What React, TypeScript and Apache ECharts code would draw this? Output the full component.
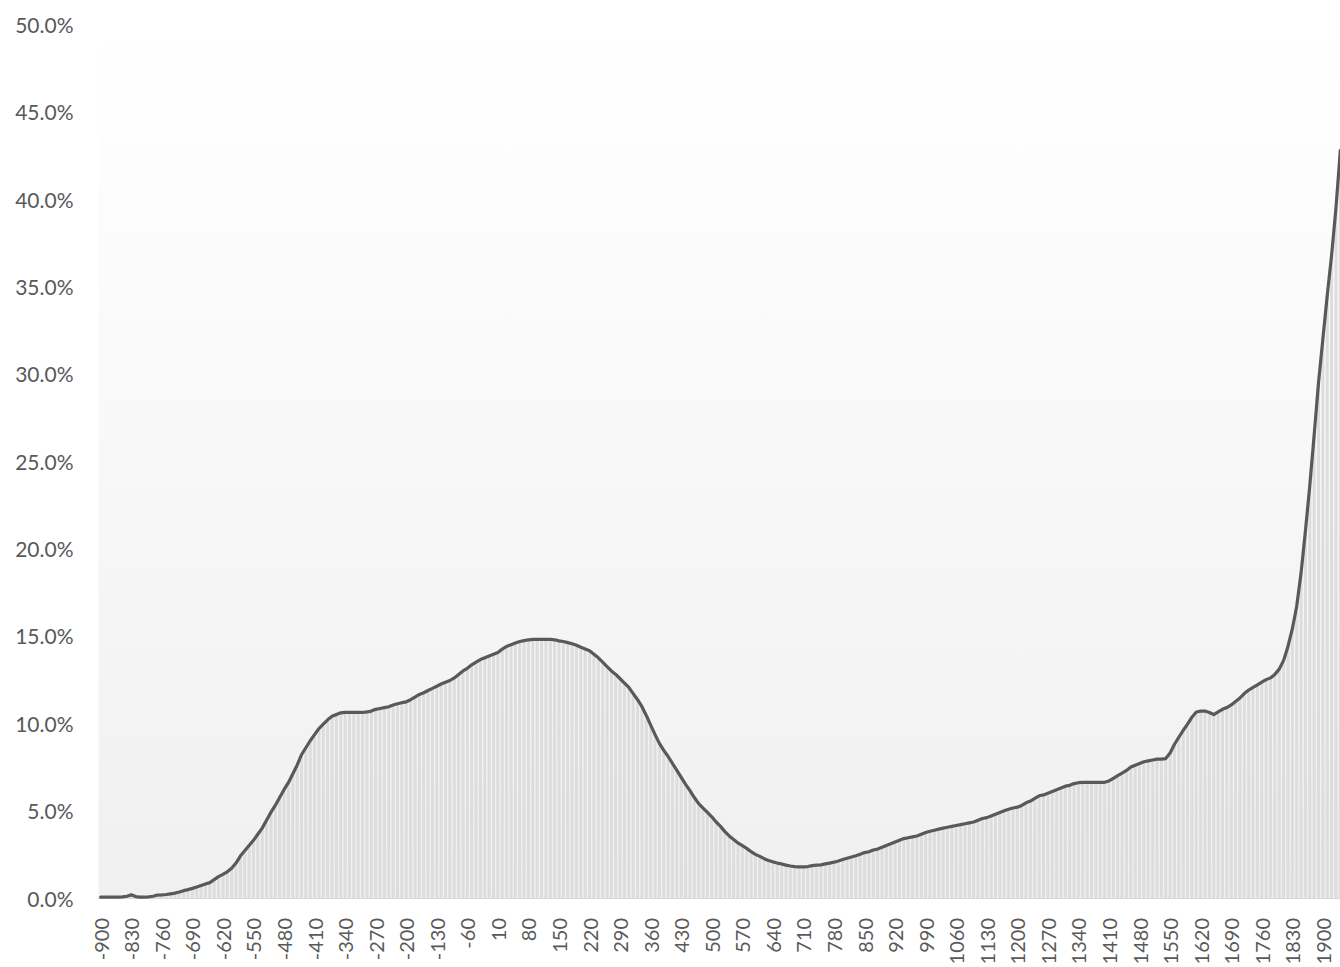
import React, { useEffect, useRef } from "react";
import * as echarts from "echarts";

// Years from -900 to 1940, step 10
const years: string[] = Array.from({ length: 285 }, (_, i) => String(-900 + i * 10));

// Share (%), one value per decade
const shareValues: number[] = [
  // -900..-810
  0.05, 0.05, 0.05, 0.05, 0.05, 0.06, 0.1, 0.18, 0.08, 0.05,
  // -800..-710
  0.05, 0.06, 0.1, 0.17, 0.18, 0.2, 0.24, 0.28, 0.34, 0.42,
  // -700..-610
  0.48, 0.55, 0.63, 0.72, 0.8, 0.88, 1.05, 1.22, 1.35, 1.5,
  // -600..-510
  1.7, 2.0, 2.4, 2.7, 3.0, 3.3, 3.65, 4.0, 4.45, 4.9,
  // -500..-410
  5.3, 5.75, 6.2, 6.6, 7.1, 7.6, 8.2, 8.6, 9.0, 9.35,
  // -400..-310
  9.7, 9.95, 10.2, 10.4, 10.5, 10.6, 10.62, 10.62, 10.62, 10.62,
  // -300..-210
  10.62, 10.65, 10.7, 10.8, 10.85, 10.9, 10.95, 11.05, 11.12, 11.18,
  // -200..-110
  11.23, 11.35, 11.5, 11.65, 11.75, 11.88, 12.0, 12.12, 12.25, 12.35,
  // -100..-10
  12.45, 12.6, 12.8, 13.0, 13.15, 13.35, 13.5, 13.65, 13.75, 13.85,
  // 0..90
  13.95, 14.05, 14.25, 14.4, 14.5, 14.6, 14.68, 14.73, 14.78, 14.8,
  // 100..190
  14.8, 14.8, 14.8, 14.8, 14.78, 14.72, 14.68, 14.62, 14.55, 14.47,
  // 200..290
  14.35, 14.25, 14.15, 13.95, 13.75, 13.5, 13.25, 13.0, 12.8, 12.55,
  // 300..390
  12.3, 12.05, 11.7, 11.35, 10.95, 10.45, 9.9, 9.35, 8.85, 8.45,
  // 400..490
  8.1, 7.7, 7.3, 6.9, 6.5, 6.15, 5.75, 5.4, 5.15, 4.9,
  // 500..590
  4.65, 4.35, 4.1, 3.8, 3.55, 3.35, 3.15, 3.0, 2.84, 2.65,
  // 600..690
  2.5, 2.38, 2.25, 2.15, 2.07, 2.0, 1.95, 1.88, 1.83, 1.8,
  // 700..790
  1.78, 1.78, 1.8, 1.85, 1.88, 1.9, 1.95, 2.0, 2.05, 2.12,
  // 800..890
  2.2, 2.28, 2.35, 2.42, 2.5, 2.6, 2.65, 2.75, 2.8, 2.9,
  // 900..990
  3.0, 3.1, 3.2, 3.3, 3.4, 3.45, 3.5, 3.55, 3.65, 3.75,
  // 1000..1090
  3.82, 3.88, 3.94, 4.0, 4.05, 4.1, 4.15, 4.2, 4.25, 4.3,
  // 1100..1190
  4.35, 4.45, 4.55, 4.6, 4.7, 4.8, 4.9, 5.0, 5.08, 5.15,
  // 1200..1290
  5.2, 5.3, 5.45, 5.55, 5.7, 5.85, 5.9, 6.0, 6.1, 6.2,
  // 1300..1390
  6.3, 6.4, 6.45, 6.55, 6.6, 6.62, 6.62, 6.62, 6.62, 6.62,
  // 1400..1490
  6.62, 6.7, 6.85, 7.0, 7.15, 7.3, 7.5, 7.6, 7.7, 7.8,
  // 1500..1590
  7.85, 7.9, 7.95, 7.95, 7.98, 8.3, 8.8, 9.2, 9.6, 9.95,
  // 1600..1690
  10.35, 10.65, 10.7, 10.7, 10.62, 10.5, 10.65, 10.8, 10.9, 11.05,
  // 1700..1790
  11.25, 11.45, 11.7, 11.9, 12.05, 12.2, 12.35, 12.5, 12.6, 12.8,
  // 1800..1890
  13.1, 13.6, 14.4, 15.4, 16.7, 18.6, 21.0, 23.6, 26.5, 29.5,
  // 1900..1940
  32.0, 34.5, 36.8, 39.5, 42.8,
];

const yTicks = { min: 0, max: 50, interval: 5 };

export default function App() {
  const ref = useRef<HTMLDivElement>(null);
  useEffect(() => {
    if (!ref.current) return;
    const chart = echarts.init(ref.current, undefined, { renderer: "svg" });
    const font = "Lato, 'Open Sans', sans-serif";
    chart.setOption({
      animation: false,
      backgroundColor: "#ffffff",
      grid: {
        left: 98.5,
        top: 24.5,
        width: 285 * 4.365,
        height: 873.5,
        outerBoundsMode: "none",
        containLabel: false,
        show: true,
        borderWidth: 0,
        backgroundColor: new echarts.graphic.LinearGradient(0, 0, 0, 1, [
          { offset: 0, color: "#ffffff" },
          { offset: 0.1, color: "#fefefe" },
          { offset: 1, color: "#f0f0f0" },
        ]),
      },
      xAxis: {
        type: "category",
        data: years,
        boundaryGap: true,
        axisLine: { show: true, lineStyle: { color: "#d9d9d9", width: 1 } },
        axisTick: { show: false },
        axisLabel: {
          interval: 6,
          rotate: 90,
          margin: 20,
          color: "#595959",
          fontFamily: font,
          fontSize: 20,
        },
        splitLine: { show: false },
      },
      yAxis: {
        type: "value",
        min: yTicks.min,
        max: yTicks.max,
        interval: yTicks.interval,
        axisLine: { show: false },
        axisTick: { show: false },
        splitLine: { show: false },
        axisLabel: {
          margin: 25,
          color: "#595959",
          fontFamily: font,
          fontSize: 21,
          formatter: (v: number) => v.toFixed(1) + "%",
        },
      },
      series: [
        {
          type: "bar",
          data: shareValues,
          barCategoryGap: "30%",
          itemStyle: { color: "#dddddd" },
          silent: true,
        },
        {
          type: "line",
          data: shareValues,
          symbol: "none",
          smooth: false,
          lineStyle: { color: "#595959", width: 3.2, join: "round", cap: "round" },
          silent: true,
        },
      ],
    });
    return () => chart.dispose();
  }, []);
  return (
    <div
      ref={ref}
      style={{ position: "absolute", left: 0, top: 0, width: 1340, height: 967 }}
    />
  );
}
